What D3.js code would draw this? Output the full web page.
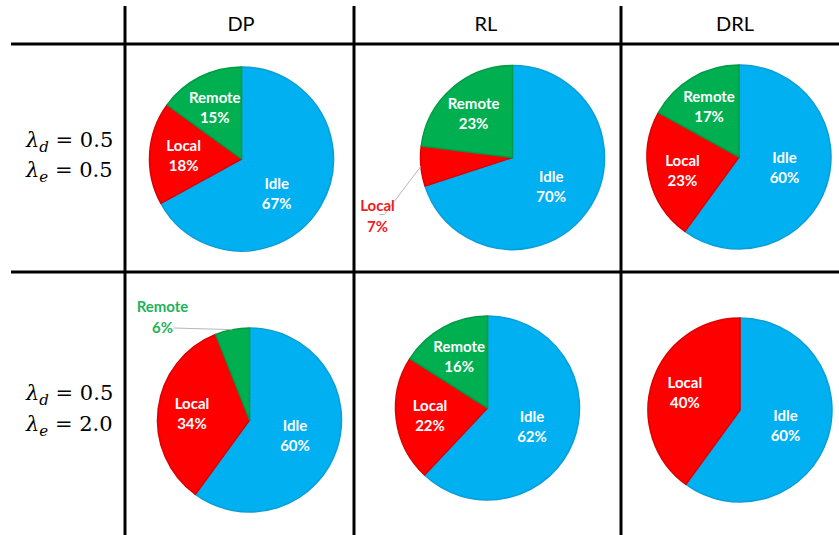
<!DOCTYPE html>
<html>
<head>
<meta charset="utf-8">
<script src="https://cdn.jsdelivr.net/npm/d3@7"></script>
<style>
  html, body { margin: 0; padding: 0; background: #fff; }
  svg { display: block; }
</style>
</head>
<body>
<svg id="chart" width="839" height="535"></svg>
<script>
// ---- data ----
const methods = ["DP", "RL", "DRL"];
const lambdaD = ["0.5", "0.5"];
const lambdaE = ["0.5", "2.0"];
const categories = ["Idle", "Local", "Remote"];
// share of time (%) per row (λ setting) and column (method)
const idleShare   = [[67, 70, 60], [60, 62, 60]];
const localShare  = [[18, 7, 23], [34, 22, 40]];
const remoteShare = [[15, 23, 17], [6, 16, 0]];

// ---- layout ----
const W = 839, H = 535;
const colEdges = [125, 354, 621, W];
const rowEdges = [44, 272, H];
const radius = 92;
// pie centre offsets inside each cell (relative to cell centre)
const pieOffset = [
  [[2, 1], [25, -0.5], [9, -1]],
  [[10, 16.5], [0, 4.5], [10, 6.5]]
];
// labels for thin slices sit outside the pie (offset from pie centre)
const outsideLabel = {
  "0-1-Local":  { dx: -135, dy: 58, leader: [[-128, 57], [-133, 57]] },
  "1-0-Remote": { dx: -87, dy: -103, leader: [[-76, -92]] }
};
// small manual nudges for inside labels
const labelNudge = { "0-0-Idle": [-6, 10], "0-2-Idle": [0, -5] };
const fillColor   = { Idle: "#00b0f0", Local: "#ff0000", Remote: "#00b050" };
const strokeColor = { Idle: "#0a9ed6", Local: "#dc0000", Remote: "#009a44" };
const outsideText = { Local: "#ee1c24", Remote: "#1fb25a" };
const labelRadius = { Idle: 0.52, Local: 0.63, Remote: 0.64 };

const svg = d3.select("#chart");
const color = d3.scaleOrdinal(categories, categories.map(c => fillColor[c]));

// grid lines
const grid = svg.append("g").attr("stroke", "#000").attr("stroke-width", 3);
grid.append("line").attr("x1", 11).attr("x2", W).attr("y1", rowEdges[0]).attr("y2", rowEdges[0]);
grid.append("line").attr("x1", 11).attr("x2", W).attr("y1", rowEdges[1]).attr("y2", rowEdges[1]);
colEdges.slice(0, 3).forEach(x => {
  grid.append("line").attr("x1", x).attr("x2", x).attr("y1", 6).attr("y2", H);
});

// column headers
const headerX = [241, 486, 735];
methods.forEach((m, j) => {
  svg.append("text")
    .attr("x", headerX[j])
    .attr("y", 31)
    .attr("text-anchor", "middle")
    .attr("font-family", "Lato, 'Open Sans', sans-serif")
    .attr("font-size", 20)
    .attr("fill", "#000")
    .text(m);
});

// row headers: λ_d and λ_e values
function lambdaLabel(g, sub, val, y) {
  const t = g.append("text")
    .attr("x", 26).attr("y", y)
    .attr("font-family", "'DejaVu Serif', 'Liberation Serif', serif")
    .attr("font-size", 21)
    .attr("fill", "#000");
  t.append("tspan").attr("font-style", "italic").text("λ");
  t.append("tspan").attr("font-style", "italic").attr("font-size", 15).attr("dy", 5).text(sub);
  t.append("tspan").attr("dy", -5).text(" = " + val);
}
lambdaD.forEach((v, i) => {
  const g = svg.append("g");
  lambdaLabel(g, "d", v, i === 0 ? 147 : 400);
  lambdaLabel(g, "e", lambdaE[i], i === 0 ? 177 : 431);
});

// pies
const pie = d3.pie().sort(null).value(d => d.value);
const arc = d3.arc().innerRadius(0).outerRadius(radius);
const labelFont = "Lato, 'Open Sans', sans-serif";

for (let i = 0; i < 2; i++) {
  for (let j = 0; j < 3; j++) {
    const cx = (colEdges[j] + colEdges[j + 1]) / 2 + pieOffset[i][j][0];
    const cy = (rowEdges[i] + rowEdges[i + 1]) / 2 + pieOffset[i][j][1];
    const values = [idleShare[i][j], localShare[i][j], remoteShare[i][j]];
    const data = categories.map((c, k) => ({ cat: c, value: values[k] })).filter(d => d.value > 0);
    const g = svg.append("g").attr("transform", `translate(${cx},${cy})`);
    const arcs = pie(data);

    g.selectAll("path.slice").data(arcs).join("path")
      .attr("class", "slice")
      .attr("d", arc)
      .attr("fill", d => color(d.data.cat))
      .attr("stroke", d => strokeColor[d.data.cat])
      .attr("stroke-width", 1.5)
      .attr("stroke-linejoin", "round");

    arcs.forEach(a => {
      const key = `${i}-${j}-${a.data.cat}`;
      const mid = (a.startAngle + a.endAngle) / 2;
      const lines = [a.data.cat, a.data.value + "%"];
      if (outsideLabel[key]) {
        const o = outsideLabel[key];
        const edge = [Math.sin(mid) * radius, -Math.cos(mid) * radius];
        g.append("path")
          .attr("d", d3.line()([edge].concat(o.leader)))
          .attr("fill", "none")
          .attr("stroke", "#b8b8b8")
          .attr("stroke-width", 1);
        const t = g.append("text")
          .attr("text-anchor", "middle")
          .attr("font-family", labelFont)
          .attr("font-weight", "bold")
          .attr("font-size", 15)
          .attr("fill", outsideText[a.data.cat]);
        lines.forEach((s, k) => {
          t.append("tspan").attr("x", o.dx).attr("y", o.dy - 5 + k * 21).text(s);
        });
      } else {
        const lr = radius * labelRadius[a.data.cat];
        const nudge = labelNudge[key] || [0, 0];
        const lx = Math.sin(mid) * lr + nudge[0], ly = -Math.cos(mid) * lr + nudge[1];
        const t = g.append("text")
          .attr("text-anchor", "middle")
          .attr("font-family", labelFont)
          .attr("font-weight", "bold")
          .attr("font-size", 15)
          .attr("fill", "#fff");
        lines.forEach((s, k) => {
          t.append("tspan").attr("x", lx).attr("y", ly - 4 + k * 20).text(s);
        });
      }
    });
  }
}
</script>
</body>
</html>
